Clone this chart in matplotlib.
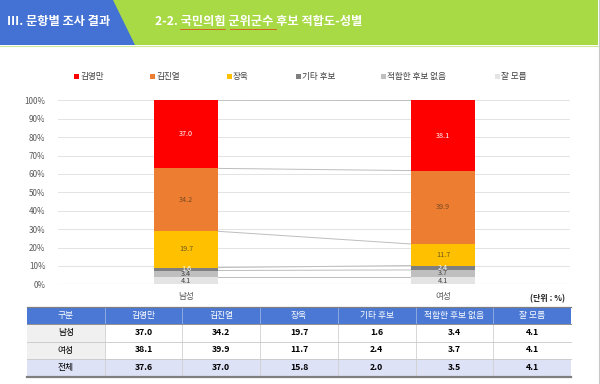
import matplotlib
matplotlib.use("Agg")
import matplotlib.pyplot as plt
from matplotlib.patches import Polygon, Rectangle
import numpy as np

plt.rcParams['font.family'] = ['Noto Sans CJK KR', 'DejaVu Sans']

# data
groups = ["남성", "여성"]
series = ["김영만", "김진열", "장욱", "기타 후보", "적합한 후보 없음", "잘 모름"]
male = [37.0, 34.2, 19.7, 1.6, 3.4, 4.1]
female = [38.1, 39.9, 11.7, 2.4, 3.7, 4.1]
total = [37.6, 37.0, 15.8, 2.0, 3.5, 4.1]
colors = ["#FF0000", "#ED7D31", "#FFC000", "#7F7F7F", "#BFBFBF", "#E4E4E4"]
label_colors = ["white", "#7a4a22", "#6b5a20", "white", "#404040", "#404040"]
yticks = [0, 10, 20, 30, 40, 50, 60, 70, 80, 90, 100]

W, H = 600, 384
fig = plt.figure(figsize=(W / 100, H / 100), dpi=100)

# background / layout axes in pixel coords
bg = fig.add_axes([0, 0, 1, 1])
bg.set_xlim(0, W)
bg.set_ylim(H, 0)
bg.axis("off")

# header band
bg.add_patch(Rectangle((0, 0), W - 2, 45, color="#A8DA46", lw=0))
bg.add_patch(Polygon([(0, 0), (113, 0), (135, 45), (0, 45)], color="#4472D4", lw=0))
bg.plot([0, W - 2], [45.5, 45.5], color="#cfe89a", lw=0.8)
bg.plot([598.5, 598.5], [0, H], color="#c8c8c8", lw=0.8)
bg.text(7, 22, "Ⅲ. 문항별 조사 결과", color="white", fontsize=8.8, fontweight="bold", va="center")
bg.text(155, 22, "2-2. 국민의힘 군위군수 후보 적합도-성별", color="white", fontsize=8.8,
        fontweight="bold", va="center")
bg.plot([180, 225], [28.8, 28.8], color="#d9531e", lw=0.6)
bg.plot([230, 276], [28.8, 28.8], color="#d9531e", lw=0.6)

# legend
leg_x = [76, 152, 229, 298, 383, 497]
for x, name, c in zip(leg_x, series, colors):
    bg.add_patch(Rectangle((x - 2.5, 74), 5, 5, color=c, lw=0))
    bg.text(x + 4, 76.5, name, fontsize=6.2, color="#404040", va="center", ha="left")

# chart
ax = fig.add_axes([58 / W, 1 - 284.3 / H, (570 - 58) / W, (284.3 - 100.3) / H])
xs = np.arange(len(groups))
data = np.array([male, female])
bw = 64 / 257
bottoms = np.zeros(len(groups))
tops = []
for i in range(len(series) - 1, -1, -1):
    vals = data[:, i]
    ax.bar(xs, vals, bw, bottom=bottoms, color=colors[i], lw=0, zorder=3)
    for x, b, v in zip(xs, bottoms, vals):
        ax.text(x, b + v / 2, f"{v:.1f}", ha="center", va="center", fontsize=5.2,
                color=label_colors[i], zorder=4)
    bottoms = bottoms + vals
    tops.append(bottoms.copy())
for t in tops:
    ax.plot([xs[0] + bw / 2, xs[1] - bw / 2], [min(t[0], 100), min(t[1], 100)],
            color="#bdbdbd", lw=0.7, zorder=2)
ax.set_xlim(-128 / 257, 1 + 127 / 257)
ax.set_ylim(0, 100)
ax.set_yticks(yticks)
ax.set_yticklabels([f"{v}%" for v in yticks], fontsize=5.8, color="#595959")
ax.tick_params(axis="y", length=0, pad=9)
ax.set_xticks([])
ax.grid(axis="y", color="#e3e3e3", lw=0.7, zorder=0)
for s in ax.spines.values():
    s.set_visible(False)
ax.axhline(0, color="#d9d9d9", lw=0.8, zorder=1)

for x, g in zip([186, 443], groups):
    bg.text(x, 297, g, ha="center", va="center", fontsize=6.2, color="#595959")
bg.text(547, 299, "(단위 : %)", ha="center", va="center", fontsize=5.8, color="#202020",
        fontweight="bold")

# table
left, right = 27, 571
ncol = len(series) + 1
cw = (right - left) / ncol
row_y = [307, 324, 341.5, 358.5, 377]
header = ["구분"] + series
rows = [[groups[0]] + [f"{v:.1f}" for v in male],
        [groups[1]] + [f"{v:.1f}" for v in female],
        ["전체"] + [f"{v:.1f}" for v in total]]

bg.add_patch(Rectangle((left, row_y[0]), right - left, row_y[1] - row_y[0], color="#4A78D4", lw=0))
bg.add_patch(Rectangle((left, row_y[3]), right - left, row_y[4] - row_y[3], color="#DEE2F6", lw=0))
for r in range(2):
    bg.add_patch(Rectangle((left, row_y[r + 1]), cw, row_y[r + 2] - row_y[r + 1], color="#F0F0F0", lw=0))
for j, h in enumerate(header):
    bg.text(left + cw * (j + 0.5), (row_y[0] + row_y[1]) / 2, h, ha="center", va="center",
            fontsize=6.3, color="white")
for r, row in enumerate(rows):
    yc = (row_y[r + 1] + row_y[r + 2]) / 2
    for j, v in enumerate(row):
        bg.text(left + cw * (j + 0.5), yc, v, ha="center", va="center", fontsize=6.3,
                color="black", fontweight="normal" if j == 0 else "bold")
for j in range(1, ncol):
    x = left + cw * j
    bg.plot([x, x], [row_y[0], row_y[1]], color="#8fa8e0", lw=0.7)
    bg.plot([x, x], [row_y[1], row_y[4]], color="#d0d0d0", lw=0.6)
for y in row_y[2:4]:
    bg.plot([left, right], [y, y], color="#c8c8c8", lw=0.6)
bg.plot([left, right], [row_y[0], row_y[0]], color="#7f7f7f", lw=0.9)
bg.plot([left, right], [row_y[1], row_y[1]], color="#7f7f7f", lw=0.6)
bg.plot([left, right], [row_y[4], row_y[4]], color="#7f7f7f", lw=1.6)

fig.savefig("out.png", dpi=100)
